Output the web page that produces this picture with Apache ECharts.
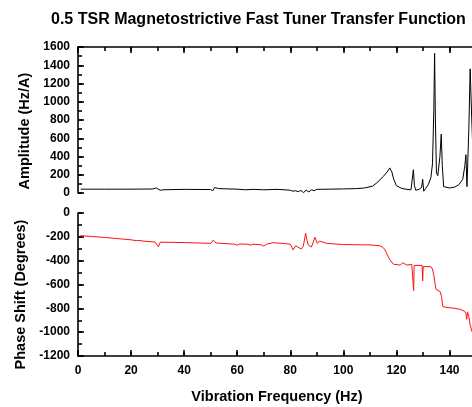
<!DOCTYPE html>
<html>
<head>
<meta charset="utf-8">
<script src="https://cdn.jsdelivr.net/npm/echarts@6/dist/echarts.min.js"></script>
<style>
  html, body { margin: 0; padding: 0; background: #fff; }
  #chart { width: 472px; height: 407px; }
</style>
</head>
<body>
<div id="chart"></div>
<script>
// amplitude (Hz/A) vs frequency (Hz)
var ampFreq = [1, 10, 20, 28, 29.5, 30.2, 31, 32, 40, 50, 50.8, 51.5, 53, 60, 63, 66, 70, 75, 78, 80, 81, 82, 83, 84, 85, 86, 87, 88, 89, 90, 95, 100, 105, 108, 111, 113, 115, 116.5, 117.5, 118.3, 119, 120, 122, 124, 125.5, 126, 126.4, 126.8, 127.3, 128.5, 129.5, 129.9, 130.3, 131, 132, 133, 133.6, 134.1, 134.4, 134.7, 135.1, 135.6, 136.4, 136.9, 137.3, 137.8, 138.5, 140, 142, 143.5, 145, 145.8, 146.2, 146.6, 147.3, 147.8, 148.3, 149, 150];
var ampValues = [42, 42, 42, 44, 55, 72, 30, 35, 40, 38, 25, 60, 48, 42, 35, 40, 35, 40, 35, 30, 20, 25, 15, 28, 5, 30, 12, 35, 25, 40, 42, 45, 48, 55, 75, 120, 180, 230, 275, 230, 150, 80, 50, 40, 35, 30, 255, 80, 30, 40, 60, 150, 20, 50, 90, 170, 320, 900, 1530, 800, 220, 190, 400, 645, 300, 70, 50, 55, 65, 90, 150, 300, 420, 70, 700, 1360, 900, 300, 150];

// phase shift (degrees) vs frequency (Hz)
var phaseFreq = [1, 5, 10, 15, 20, 22, 22.5, 23, 25, 29, 30.3, 31, 40, 50, 51, 52, 55, 59, 60, 61, 64, 65, 66, 69, 70, 71, 73.6, 77, 80, 81.1, 82, 82.8, 84.1, 84.9, 85.8, 86.3, 86.8, 88, 89.3, 90.2, 91, 93.7, 100, 110, 113.8, 115, 115.7, 117, 117.6, 118.9, 121.4, 122.4, 123.9, 125.8, 126.3, 126.5, 126.7, 129.7, 129.9, 130.1, 133, 133.6, 134.2, 134.9, 136.5, 137, 137.5, 139, 142, 144, 145.8, 146.2, 146.5, 146.8, 147.3, 147.8, 148.5, 149.5, 150];
var phaseValues = [-190, -197, -205, -215, -225, -232, -245, -230, -237, -243, -283, -245, -248, -255, -227, -252, -256, -262, -270, -260, -262, -270, -262, -266, -278, -262, -249, -255, -262, -310, -275, -285, -302, -280, -170, -230, -270, -285, -204, -255, -235, -255, -265, -268, -275, -290, -310, -370, -394, -430, -437, -417, -437, -432, -440, -652, -440, -440, -570, -450, -450, -470, -534, -640, -660, -700, -786, -792, -800, -808, -826, -845, -892, -830, -870, -940, -996, -1020, -1030];

var freqRange = [0, 150];
var ampRange = [0, 1600];
var phaseRange = [-1200, 0];

function pairs(xs, ys) {
    var out = [];
    for (var i = 0; i < xs.length; i++) out.push([xs[i], ys[i]]);
    return out;
}

var fontFam = '"Liberation Sans", Arial, sans-serif';
var black = '#000';

function plain(v) { return String(v); }

// main frequency axis (major ticks every 20)
function xAxisFor(gridIndex, pos, showLabels) {
    return {
        type: 'value',
        gridIndex: gridIndex,
        position: pos,
        min: freqRange[0],
        max: freqRange[1],
        interval: 20,
        axisLine: { show: true, onZero: false, lineStyle: { color: black, width: 1.6 } },
        axisTick: { show: true, inside: true, length: 6, lineStyle: { color: black, width: 1.6 } },
        splitLine: { show: false },
        axisLabel: {
            show: showLabels, margin: 9, showMaxLabel: false, formatter: plain,
            color: black, fontWeight: 'bold', fontSize: 12, fontFamily: fontFam
        },
        name: showLabels ? 'Vibration Frequency (Hz)' : '',
        nameLocation: 'middle',
        nameGap: 33,
        nameTextStyle: { color: black, fontWeight: 'bold', fontSize: 14.5, fontFamily: fontFam }
    };
}

// short ticks every 10 Hz (minor ticks)
function xMinorFor(gridIndex, pos) {
    return {
        type: 'value',
        gridIndex: gridIndex,
        position: pos,
        min: freqRange[0],
        max: freqRange[1],
        interval: 10,
        axisLine: { show: false, onZero: false },
        axisTick: { show: true, inside: true, length: 4, lineStyle: { color: black, width: 1.6 } },
        splitLine: { show: false },
        axisLabel: { show: false }
    };
}

function yAxisFor(gridIndex, range, name, shift) {
    return {
        type: 'value',
        gridIndex: gridIndex,
        position: 'left',
        min: range[0],
        max: range[1],
        interval: 200,
        axisLine: { show: true, onZero: false, lineStyle: { color: black, width: 1.6 } },
        axisTick: { show: true, inside: true, length: 6, lineStyle: { color: black, width: 1.6 } },
        splitLine: { show: false },
        axisLabel: { margin: 8, formatter: plain, color: black, fontWeight: 'bold', fontSize: 12, fontFamily: fontFam },
        name: name,
        nameLocation: 'middle',
        nameGap: 45,
        nameTextStyle: {
            color: black, fontWeight: 'bold', fontSize: 14.5, fontFamily: fontFam,
            padding: [0, shift, 0, 0]
        }
    };
}

function yMinorFor(gridIndex, range) {
    return {
        type: 'value',
        gridIndex: gridIndex,
        position: 'left',
        offset: 0,
        min: range[0],
        max: range[1],
        interval: 100,
        axisLine: { show: false, onZero: false },
        axisTick: { show: true, inside: true, length: 4, lineStyle: { color: black, width: 1.6 } },
        splitLine: { show: false },
        axisLabel: { show: false }
    };
}

var chart = echarts.init(document.getElementById('chart'), null, { renderer: 'canvas' });

var option = {
    animation: false,
    backgroundColor: '#fff',
    title: {
        text: '0.5 TSR Magnetostrictive Fast Tuner Transfer Function',
        left: 46,
        top: 7,
        textStyle: { color: black, fontWeight: 'bold', fontSize: 16, fontFamily: fontFam }
    },
    grid: [
        { left: 78, top: 47, width: 398, height: 146, outerBoundsMode: 'none' },
        { left: 78, top: 213, width: 398, height: 143, outerBoundsMode: 'none' }
    ],
    xAxis: [
        xAxisFor(0, 'top', false),
        xAxisFor(1, 'bottom', true),
        xMinorFor(0, 'top'),
        xMinorFor(1, 'bottom')
    ],
    yAxis: [
        yAxisFor(0, ampRange, 'Amplitude (Hz/A)', 22),
        yAxisFor(1, phaseRange, 'Phase Shift (Degrees)', 20),
        yMinorFor(0, ampRange),
        yMinorFor(1, phaseRange)
    ],
    series: [
        {
            type: 'line',
            xAxisIndex: 0,
            yAxisIndex: 0,
            data: pairs(ampFreq, ampValues),
            showSymbol: false,
            lineStyle: { color: black, width: 1 }
        },
        {
            type: 'line',
            xAxisIndex: 1,
            yAxisIndex: 1,
            data: pairs(phaseFreq, phaseValues),
            showSymbol: false,
            lineStyle: { color: '#ff1010', width: 1 }
        }
    ]
};

chart.setOption(option);
</script>
</body>
</html>
